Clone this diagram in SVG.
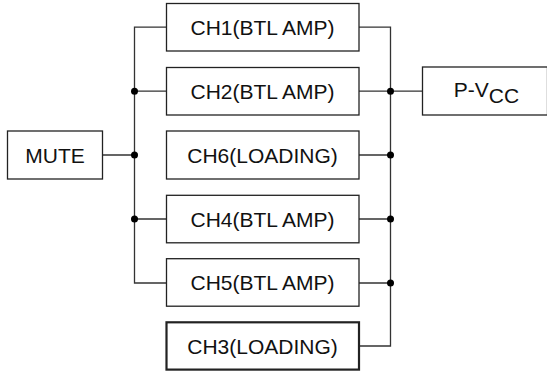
<svg xmlns="http://www.w3.org/2000/svg" width="547" height="374" viewBox="0 0 547 374">
<style>
.box{fill:#fff;stroke:#222;stroke-width:1.3}
.thick{stroke-width:2.2}
.lbl{font-family:"Liberation Sans",Arial,sans-serif;font-size:21px;fill:#111;text-anchor:middle}
.wire{fill:none;stroke:#333;stroke-width:1.3}
.dot{fill:#000}
</style>
<rect width="547" height="374" fill="#fff"/>
<g id="connectors">
<path class="wire" d="M166.5 27.2H134.5V283H166.5"/>
<path class="wire" d="M134.5 91.2H166.5M102.5 155H134.5M134.5 219H166.5"/>
<path class="wire" d="M359 27.2H390.5V346H359"/>
<path class="wire" d="M359 91.2H422.5M359 155H390.5M359 219H390.5M359 283H390.5"/>
<circle class="dot" cx="134.5" cy="91.2" r="3.5"/>
<circle class="dot" cx="134.5" cy="155" r="3.5"/>
<circle class="dot" cx="134.5" cy="219" r="3.5"/>
<circle class="dot" cx="390.5" cy="91.2" r="3.5"/>
<circle class="dot" cx="390.5" cy="155" r="3.5"/>
<circle class="dot" cx="390.5" cy="219" r="3.5"/>
<circle class="dot" cx="390.5" cy="283" r="3.5"/>
</g>
<g id="mute"><rect class="box" x="7.5" y="131" width="95" height="48"/><text class="lbl" x="55" y="162.5">MUTE</text></g>
<g id="ch1"><rect class="box" x="166.5" y="3.5" width="192.5" height="47.5"/><text class="lbl" x="262.5" y="34.7">CH1(BTL AMP)</text></g>
<g id="ch2"><rect class="box" x="166.5" y="67.5" width="192.5" height="47.5"/><text class="lbl" x="262.5" y="98.7">CH2(BTL AMP)</text></g>
<g id="ch6"><rect class="box" x="166.5" y="131" width="192.5" height="48"/><text class="lbl" x="262.5" y="162.5">CH6(LOADING)</text></g>
<g id="ch4"><rect class="box" x="166.5" y="195.3" width="192.5" height="47.5"/><text class="lbl" x="262.5" y="226.5">CH4(BTL AMP)</text></g>
<g id="ch5"><rect class="box" x="166.5" y="258.7" width="192.5" height="47.5"/><text class="lbl" x="262.5" y="290">CH5(BTL AMP)</text></g>
<g id="ch3"><rect class="box thick" x="166.5" y="322.3" width="192.5" height="47.3"/><text class="lbl" x="262.5" y="353.5">CH3(LOADING)</text></g>
<g id="pvcc"><rect class="box" x="422.5" y="67" width="125" height="48"/><text class="lbl" x="486.5" y="97">P-V<tspan dy="6">CC</tspan></text></g>
</svg>
